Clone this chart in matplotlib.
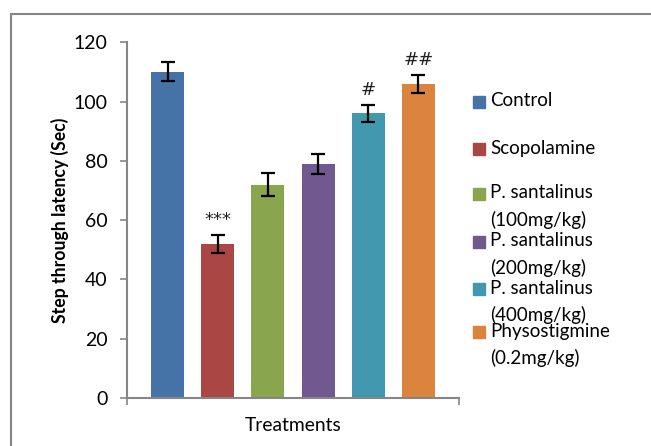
import matplotlib.pyplot as plt
from matplotlib.patches import Rectangle

groups = ['Control', 'Scopolamine', 'P. santalinus\n(100mg/kg)', 'P. santalinus\n(200mg/kg)',
          'P. santalinus\n(400mg/kg)', 'Physostigmine\n(0.2mg/kg)']
latency = [110, 52, 72, 79, 96, 106]
sem = [3.2, 3, 3.8, 3.3, 3, 3]
marks = ['', '***', '', '', '#', '##']
colors = ['#4572a7', '#aa4643', '#89a54e', '#71588f', '#4198af', '#db843d']

plt.rcParams['font.family'] = ['Lato', 'DejaVu Sans']

fig = plt.figure(figsize=(6.51, 4.46), dpi=100)
ax = fig.add_axes([127 / 651, 1 - 398 / 446, 332 / 651, (398 - 42.3) / 446])

x = list(range(len(groups)))
ax.bar(x, latency, width=0.66, color=colors, yerr=sem,
       error_kw=dict(ecolor='black', elinewidth=1.6, capsize=5, capthick=1.6))
for xi, v, e, m in zip(x, latency, sem, marks):
    if m:
        ax.text(xi, v + e + 5, m, ha='center', va='center', fontsize=13,
                family='DejaVu Sans', color='#222222')

ax.set_xlim(-0.81, 5.81)
ax.set_ylim(0, 120)
ax.set_yticks(range(0, 121, 20))
ax.set_xticks([-0.81, 5.81])
ax.set_xticklabels(['', ''])
for s in ['top', 'right']:
    ax.spines[s].set_visible(False)
for s in ['left', 'bottom']:
    ax.spines[s].set_color('#868686')
    ax.spines[s].set_linewidth(1.5)
ax.tick_params(axis='both', colors='#868686', length=5, width=1.2, labelsize=14,
               labelcolor='black', pad=9)
ax.set_ylabel('Step through latency (Sec)', fontsize=12.7, fontweight='bold', labelpad=3)
ax.set_xlabel('Treatments', fontsize=13.9, labelpad=0)

# legend drawn by hand to keep the Excel-like spacing
leg_y = [101, 148, 193, 241, 288, 331]
for lab, c, yy in zip(groups, colors, leg_y):
    fig.add_artist(Rectangle((473 / 651, 1 - (yy + 7) / 446), 12 / 651, 12 / 446,
                             transform=fig.transFigure, color=c))
    for k, line in enumerate(lab.split('\n')):
        fig.text(490 / 651, 1 - (yy + 27 * k) / 446, line, fontsize=13.5,
                 va='center', ha='left')

# chart area border
fig.add_artist(Rectangle((10.5 / 651, -0.1), 1.0, 1 - 13.5 / 446 + 0.1,
                         transform=fig.transFigure, fill=False, ec='#868686', lw=1.5))

fig.savefig('out.png', dpi=100)
